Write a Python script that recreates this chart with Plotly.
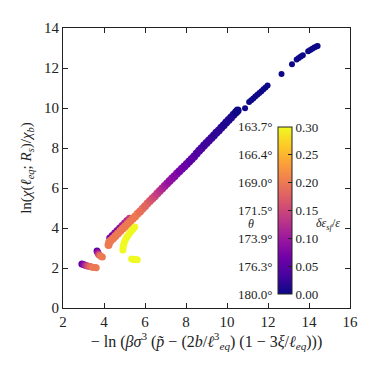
import plotly.graph_objects as go

# main band (lower / main strand)
band_x = [4.22, 4.25, 4.32, 4.44, 4.56, 4.68, 4.80, 4.92, 5.04, 5.16, 5.28, 5.40, 5.52, 5.64,
          5.76, 5.88, 6.00, 6.12, 6.24, 6.36, 6.48, 6.60, 6.72, 6.84, 6.96, 7.08, 7.20, 7.32,
          7.44, 7.56, 7.68, 7.80, 7.92, 8.04, 8.16, 8.28, 8.40, 8.52, 8.64, 8.76, 8.88, 9.00,
          9.12, 9.24, 9.36, 9.48, 9.60, 9.72, 9.84, 9.96, 10.08, 10.20, 10.32, 10.44, 10.52]
band_y = [3.15, 3.28, 3.36, 3.47, 3.60, 3.72, 3.85, 3.97, 4.09, 4.21, 4.33, 4.46, 4.58, 4.71,
          4.83, 4.96, 5.09, 5.22, 5.35, 5.47, 5.59, 5.72, 5.85, 5.97, 6.10, 6.22, 6.35, 6.47,
          6.59, 6.72, 6.84, 6.96, 7.08, 7.20, 7.33, 7.45, 7.58, 7.72, 7.86, 7.99, 8.12, 8.25,
          8.37, 8.50, 8.63, 8.76, 8.88, 9.01, 9.14, 9.27, 9.40, 9.53, 9.66, 9.79, 9.88]
band_c = [0.20, 0.20, 0.20, 0.20, 0.20, 0.20, 0.20, 0.20, 0.20, 0.20, 0.20, 0.20, 0.20, 0.20,
          0.19, 0.19, 0.18, 0.18, 0.17, 0.16, 0.15, 0.14, 0.13, 0.12, 0.11, 0.10, 0.09, 0.09,
          0.08, 0.08, 0.07, 0.07, 0.06, 0.06, 0.05, 0.05, 0.05, 0.04, 0.04, 0.04, 0.03, 0.03,
          0.03, 0.03, 0.02, 0.02, 0.02, 0.02, 0.01, 0.01, 0.01, 0.01, 0.01, 0.00, 0.00]

# upper purple fringe of the band
fringe_x = [4.28, 4.40, 4.52, 4.64, 4.76, 4.88, 5.00, 5.12, 5.24]
fringe_y = [3.50, 3.63, 3.75, 3.88, 4.00, 4.12, 4.25, 4.37, 4.49]
fringe_c = [0.07, 0.07, 0.08, 0.08, 0.09, 0.10, 0.11, 0.12, 0.14]

# two short pieces at the bottom left
seg1_x = [2.92, 3.00, 3.08, 3.16, 3.24, 3.32, 3.40, 3.48, 3.56, 3.62]
seg1_y = [2.20, 2.17, 2.14, 2.11, 2.09, 2.07, 2.05, 2.03, 2.02, 2.01]
seg1_c = [0.05, 0.08, 0.11, 0.14, 0.16, 0.18, 0.19, 0.20, 0.20, 0.20]

seg2_x = [3.66, 3.70, 3.74, 3.80, 3.86, 3.92]
seg2_y = [2.85, 2.76, 2.68, 2.62, 2.58, 2.55]
seg2_c = [0.05, 0.10, 0.15, 0.19, 0.20, 0.20]

# yellow pieces
yel_x = [5.50, 5.42, 5.33, 5.25, 5.17, 5.10, 5.04, 4.99, 4.95, 4.93, 4.92,
         5.35, 5.45, 5.55, 5.62]
yel_y = [4.05, 3.95, 3.85, 3.75, 3.63, 3.52, 3.40, 3.28, 3.15, 3.02, 2.90,
         2.45, 2.43, 2.42, 2.41]
yel_c = [0.30] * len(yel_x)

# sparse points at the top right
top_x = [10.88, 11.08, 11.18, 11.28, 11.38, 11.48, 11.58, 11.68, 11.78, 11.88, 11.98,
         12.66, 13.17, 13.40, 13.50, 13.60, 13.70, 13.96, 14.06, 14.16, 14.26, 14.36, 14.42]
top_y = [9.99, 10.30, 10.39, 10.48, 10.57, 10.66, 10.75, 10.84, 10.94, 11.03, 11.13,
         11.70, 12.19, 12.42, 12.50, 12.57, 12.64, 12.84, 12.90, 12.96, 13.02, 13.07, 13.10]
top_c = [0.0] * len(top_x)

cb_vals = [0.00, 0.05, 0.10, 0.15, 0.20, 0.25, 0.30]
theta_labels = ["180.0°", "176.3°", "173.9°", "171.5°", "169.0°", "166.4°", "163.7°"]

FONT = "Liberation Serif, Times New Roman, DejaVu Serif, serif"
INK = "#222"

fig = go.Figure()
groups = [
    (seg1_x, seg1_y, seg1_c, 7),
    (seg2_x, seg2_y, seg2_c, 7),
    (fringe_x, fringe_y, fringe_c, 7),
    (band_x, band_y, band_c, 8),
    (yel_x, yel_y, yel_c, 7),
    (top_x, top_y, top_c, 6),
]
for gx, gy, gc, sz in groups:
    fig.add_trace(go.Scatter(
        x=gx, y=gy, mode="markers",
        marker=dict(size=sz, color=gc, coloraxis="coloraxis", line=dict(width=0)),
        showlegend=False, hoverinfo="skip",
    ))

# colorbar placement (paper coords)
cb_x, cb_y, cb_len = 0.749, 0.05, 0.598
cb_thick = 14
plot_w = 287.0

axis_common = dict(
    showline=True, linecolor=INK, linewidth=1, mirror="ticks",
    ticks="inside", ticklen=5, tickcolor=INK, showgrid=False, zeroline=False,
    tickfont=dict(family=FONT, size=15, color=INK),
)

fig.update_layout(
    width=374, height=374,
    margin=dict(l=55, r=32, t=14, b=74),
    plot_bgcolor="white", paper_bgcolor="white",
    font=dict(family=FONT, color=INK),
    xaxis=dict(range=[2, 16], dtick=2, **axis_common,
               title=dict(text="− ln (<i>βσ</i><sup>3</sup> (<i>p̃</i> − (2<i>b</i>/<i>ℓ</i><sup>3</sup><sub><i>eq</i></sub>) "
                               "(1 − 3<i>ξ</i>/<i>ℓ</i><sub><i>eq</i></sub>)))",
                          font=dict(family=FONT, size=16), standoff=4)),
    yaxis=dict(range=[0, 14], dtick=2, **axis_common,
               title=dict(text="ln(<i>χ</i>(<i>ℓ</i><sub><i>eq</i></sub>; <i>R</i><sub><i>s</i></sub>)/<i>χ</i><sub><i>b</i></sub>)",
                          font=dict(family=FONT, size=15), standoff=8)),
    coloraxis=dict(
        colorscale="Plasma", cmin=0, cmax=0.3,
        colorbar=dict(
            x=cb_x, xanchor="left", y=cb_y, yanchor="bottom",
            len=cb_len, lenmode="fraction", thickness=cb_thick,
            xpad=0, ypad=0, outlinecolor=INK, outlinewidth=1,
            tickvals=cb_vals, tickformat=".2f", ticks="inside", ticklen=4,
            tickcolor=INK, tickfont=dict(family=FONT, size=13, color=INK),
            bgcolor="rgba(0,0,0,0)",
        ),
    ),
)

# theta labels and left-edge ticks of the colorbar
for v, lab in zip(cb_vals, theta_labels):
    yy = cb_y + cb_len * v / 0.3
    fig.add_annotation(x=cb_x - 4 / plot_w, y=yy, xref="paper", yref="paper",
                       text=lab, showarrow=False, xanchor="right", yanchor="middle",
                       font=dict(family=FONT, size=13, color=INK))
    if 0 < v < 0.3:
        fig.add_shape(type="line", xref="paper", yref="paper",
                      x0=cb_x, x1=cb_x + 4 / plot_w, y0=yy, y1=yy,
                      line=dict(color=INK, width=1))

mid = cb_y + cb_len * 0.125 / 0.3
fig.add_annotation(x=cb_x - 27 / plot_w, y=mid, xref="paper", yref="paper",
                   text="<i>θ</i>", showarrow=False, xanchor="center", yanchor="middle",
                   font=dict(family=FONT, size=12, color=INK))
fig.add_annotation(x=cb_x + (cb_thick + 36) / plot_w, y=mid, xref="paper", yref="paper",
                   text="<i>δε</i><sub><i>sf</i></sub>/<i>ε</i>", showarrow=False,
                   xanchor="center", yanchor="middle",
                   font=dict(family=FONT, size=12, color=INK))

fig.write_html("out.html")
